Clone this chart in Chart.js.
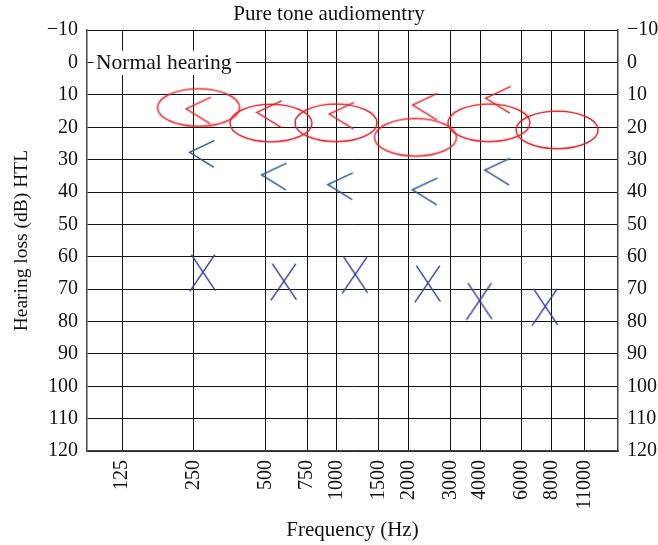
<!DOCTYPE html>
<html>
<head>
<meta charset="utf-8">
<script src="https://cdn.jsdelivr.net/npm/chart.js@4.4.1/dist/chart.umd.min.js"></script>
<style>
  html, body { margin: 0; padding: 0; background: #fff; }
  #wrap { width: 658px; height: 545px; }
</style>
</head>
<body>
<div id="wrap"><canvas id="c" width="658" height="545"></canvas></div>
<script>
// ---- data ----
const freqTicks = [125, 250, 500, 750, 1000, 1500, 2000, 3000, 4000, 6000, 8000, 11000];
const dbTicks = [-10, 0, 10, 20, 30, 40, 50, 60, 70, 80, 90, 100, 110, 120];

const redCircleFreq = [262, 528, 991, 2140, 4356, 8431];
const redCircleDb   = [13.9, 18.7, 18.6, 23.1, 18.6, 20.8];

const redLtFreq = [262, 520, 1047, 2349, 4762];
const redLtDb   = [14.8, 15.9, 16.4, 13.6, 11.5];

const blueLtFreq = [271, 544, 1034, 2343, 4726];
const blueLtDb   = [28.2, 35.2, 38.2, 39.8, 33.7];

const blueXFreq = [273, 598, 1193, 2411, 3974, 7505];
const blueXDb   = [65, 67.8, 65.7, 68.4, 73.8, 75.6];

const titleText = 'Pure tone audiomentry';
const normalLabel = 'Normal hearing';
const xTitle = 'Frequency (Hz)';
const yTitle = 'Hearing loss (dB) HTL';

// ---- marker glyphs ----
const RED = '#e8242a';
const BLUE = '#27568f';
const INDIGO = '#3442a4';

function makeCanvas(w, h, draw) {
  const c = document.createElement('canvas');
  c.width = w; c.height = h;
  const g = c.getContext('2d');
  draw(g);
  return c;
}
const ellipseImg = makeCanvas(86, 42, g => {
  g.strokeStyle = RED; g.lineWidth = 1.5;
  g.beginPath(); g.ellipse(43, 21, 41, 18.8, 0, 0, Math.PI * 2); g.stroke();
});
function ltImg(color) {
  return makeCanvas(28, 30, g => {
    g.strokeStyle = color; g.lineWidth = 1.5;
    g.beginPath(); g.moveTo(26.5, 1.6); g.lineTo(1.5, 13.3); g.lineTo(25.8, 28.3); g.stroke();
  });
}
const xImg = makeCanvas(28, 40, g => {
  g.strokeStyle = INDIGO; g.lineWidth = 1.5;
  g.beginPath();
  g.moveTo(2.5, 1.7); g.lineTo(26.5, 37.7);
  g.moveTo(26, 1.7); g.lineTo(1, 38.3);
  g.stroke();
});

function pts(xs, ys) { return xs.map((x, i) => ({ x: x, y: ys[i] })); }

const FONT = 'Liberation Serif';
Chart.defaults.font.family = FONT;
Chart.defaults.color = '#111';

const normalPlugin = {
  id: 'normal',
  afterDraw(chart) {
    const ctx = chart.ctx;
    const y = chart.scales.y.getPixelForValue(0);
    const x = chart.chartArea.left;
    ctx.save();
    ctx.font = '21.5px "' + FONT + '"';
    const w = ctx.measureText(normalLabel).width;
    ctx.fillStyle = '#fff';
    ctx.fillRect(x + 6.5, y - 12, w + 7, 24.5);
    ctx.fillStyle = '#111';
    ctx.textBaseline = 'middle';
    ctx.fillText(normalLabel, x + 9, y + 1);
    ctx.restore();
  }
};

const fmtDb = v => (v < 0 ? '\u2212' + Math.abs(v) : String(v));
const GRID = '#111';

new Chart(document.getElementById('c'), {
  type: 'scatter',
  data: {
    datasets: [
      { data: pts(redCircleFreq, redCircleDb), pointStyle: ellipseImg, pointRadius: 3, showLine: false },
      { data: pts(redLtFreq, redLtDb), pointStyle: ltImg(RED), pointRadius: 3, showLine: false },
      { data: pts(blueLtFreq, blueLtDb), pointStyle: ltImg(BLUE), pointRadius: 3, showLine: false },
      { data: pts(blueXFreq, blueXDb), pointStyle: xImg, pointRadius: 3, showLine: false }
    ]
  },
  options: {
    responsive: false,
    animation: false,
    events: [],
    layout: { padding: { left: 0, right: 0, top: 0, bottom: 0 } },
    plugins: {
      legend: { display: false },
      tooltip: { enabled: false },
      title: {
        display: true, text: titleText, color: '#111',
        font: { size: 21, weight: 'normal' },
        padding: { top: 2, bottom: 3 }
      }
    },
    scales: {
      x: {
        type: 'logarithmic',
        position: 'bottom',
        min: 89, max: 15200,
        bounds: 'data',
        afterBuildTicks: ax => { ax.ticks = freqTicks.map(v => ({ value: v })); },
        afterFit: ax => { ax.height = 94; },
        grid: { color: GRID, lineWidth: 1, drawTicks: false },
        border: { display: true, color: '#444', width: 1.5 },
        ticks: {
          autoSkip: false, minRotation: 90, maxRotation: 90, padding: 9,
          color: '#111', font: { size: 20 },
          callback: v => String(v)
        },
        title: { display: true, text: xTitle, color: '#111', font: { size: 21 }, padding: { top: 0, bottom: 2 } }
      },
      y: {
        type: 'linear',
        position: 'left',
        reverse: true,
        min: -10, max: 120,
        afterBuildTicks: ax => { ax.ticks = dbTicks.map(v => ({ value: v })); },
        afterFit: ax => { ax.width = 87; },
        grid: { color: GRID, lineWidth: 1, drawTicks: false },
        border: { display: true, color: '#444', width: 1.5 },
        ticks: { padding: 9, color: '#111', font: { size: 20 }, callback: fmtDb },
        title: { display: true, text: yTitle, color: '#111', font: { size: 19.5 }, padding: { top: 10, bottom: 0 } }
      },
      y2: {
        type: 'linear',
        position: 'right',
        reverse: true,
        min: -10, max: 120,
        afterBuildTicks: ax => { ax.ticks = dbTicks.map(v => ({ value: v })); },
        afterFit: ax => { ax.width = 40; },
        grid: { display: false, drawTicks: false },
        border: { display: true, color: '#444', width: 1.5 },
        ticks: { padding: 9, color: '#111', font: { size: 20 }, callback: fmtDb }
      }
    }
  },
  plugins: [normalPlugin]
});
</script>
</body>
</html>
